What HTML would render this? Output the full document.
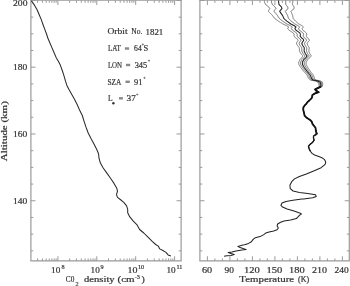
<!DOCTYPE html>
<html><head><meta charset="utf-8"><style>
html,body{margin:0;padding:0;background:#fff;}
body{width:350px;height:286px;overflow:hidden;position:relative;font-family:"Liberation Serif", serif;color:#333;}
svg{position:absolute;left:0;top:0;filter:blur(0.3px);}
.t{position:absolute;white-space:nowrap;line-height:1;}
</style></head><body>
<svg width="350" height="286" viewBox="0 0 350 286">
<line x1="30.35" y1="0.35" x2="181.65" y2="0.35" stroke="#9a9a9a" stroke-width="0.9"/>
<line x1="30.35" y1="260.85" x2="181.65" y2="260.85" stroke="#9a9a9a" stroke-width="1.2"/>
<line x1="30.90" y1="0.00" x2="30.90" y2="260.85" stroke="#9a9a9a" stroke-width="1.2"/>
<line x1="181.10" y1="0.00" x2="181.10" y2="260.85" stroke="#9a9a9a" stroke-width="1.2"/>
<line x1="30.90" y1="250.83" x2="33.30" y2="250.83" stroke="#9a9a9a" stroke-width="1.0"/>
<line x1="181.10" y1="250.83" x2="178.70" y2="250.83" stroke="#9a9a9a" stroke-width="1.0"/>
<line x1="30.90" y1="234.14" x2="33.30" y2="234.14" stroke="#9a9a9a" stroke-width="1.0"/>
<line x1="181.10" y1="234.14" x2="178.70" y2="234.14" stroke="#9a9a9a" stroke-width="1.0"/>
<line x1="30.90" y1="217.45" x2="33.30" y2="217.45" stroke="#9a9a9a" stroke-width="1.0"/>
<line x1="181.10" y1="217.45" x2="178.70" y2="217.45" stroke="#9a9a9a" stroke-width="1.0"/>
<line x1="30.90" y1="200.75" x2="35.50" y2="200.75" stroke="#9a9a9a" stroke-width="1.0"/>
<line x1="181.10" y1="200.75" x2="176.50" y2="200.75" stroke="#9a9a9a" stroke-width="1.0"/>
<line x1="30.90" y1="184.06" x2="33.30" y2="184.06" stroke="#9a9a9a" stroke-width="1.0"/>
<line x1="181.10" y1="184.06" x2="178.70" y2="184.06" stroke="#9a9a9a" stroke-width="1.0"/>
<line x1="30.90" y1="167.37" x2="33.30" y2="167.37" stroke="#9a9a9a" stroke-width="1.0"/>
<line x1="181.10" y1="167.37" x2="178.70" y2="167.37" stroke="#9a9a9a" stroke-width="1.0"/>
<line x1="30.90" y1="150.67" x2="33.30" y2="150.67" stroke="#9a9a9a" stroke-width="1.0"/>
<line x1="181.10" y1="150.67" x2="178.70" y2="150.67" stroke="#9a9a9a" stroke-width="1.0"/>
<line x1="30.90" y1="133.98" x2="35.50" y2="133.98" stroke="#9a9a9a" stroke-width="1.0"/>
<line x1="181.10" y1="133.98" x2="176.50" y2="133.98" stroke="#9a9a9a" stroke-width="1.0"/>
<line x1="30.90" y1="117.29" x2="33.30" y2="117.29" stroke="#9a9a9a" stroke-width="1.0"/>
<line x1="181.10" y1="117.29" x2="178.70" y2="117.29" stroke="#9a9a9a" stroke-width="1.0"/>
<line x1="30.90" y1="100.59" x2="33.30" y2="100.59" stroke="#9a9a9a" stroke-width="1.0"/>
<line x1="181.10" y1="100.59" x2="178.70" y2="100.59" stroke="#9a9a9a" stroke-width="1.0"/>
<line x1="30.90" y1="83.90" x2="33.30" y2="83.90" stroke="#9a9a9a" stroke-width="1.0"/>
<line x1="181.10" y1="83.90" x2="178.70" y2="83.90" stroke="#9a9a9a" stroke-width="1.0"/>
<line x1="30.90" y1="67.20" x2="35.50" y2="67.20" stroke="#9a9a9a" stroke-width="1.0"/>
<line x1="181.10" y1="67.20" x2="176.50" y2="67.20" stroke="#9a9a9a" stroke-width="1.0"/>
<line x1="30.90" y1="50.51" x2="33.30" y2="50.51" stroke="#9a9a9a" stroke-width="1.0"/>
<line x1="181.10" y1="50.51" x2="178.70" y2="50.51" stroke="#9a9a9a" stroke-width="1.0"/>
<line x1="30.90" y1="33.82" x2="33.30" y2="33.82" stroke="#9a9a9a" stroke-width="1.0"/>
<line x1="181.10" y1="33.82" x2="178.70" y2="33.82" stroke="#9a9a9a" stroke-width="1.0"/>
<line x1="30.90" y1="17.12" x2="33.30" y2="17.12" stroke="#9a9a9a" stroke-width="1.0"/>
<line x1="181.10" y1="17.12" x2="178.70" y2="17.12" stroke="#9a9a9a" stroke-width="1.0"/>
<line x1="30.90" y1="0.43" x2="35.50" y2="0.43" stroke="#9a9a9a" stroke-width="1.0"/>
<line x1="181.10" y1="0.43" x2="176.50" y2="0.43" stroke="#9a9a9a" stroke-width="1.0"/>
<line x1="199.35" y1="0.35" x2="349.85" y2="0.35" stroke="#9a9a9a" stroke-width="0.9"/>
<line x1="199.35" y1="260.85" x2="349.85" y2="260.85" stroke="#9a9a9a" stroke-width="1.2"/>
<line x1="199.90" y1="0.00" x2="199.90" y2="260.85" stroke="#9a9a9a" stroke-width="1.2"/>
<line x1="349.30" y1="0.00" x2="349.30" y2="260.85" stroke="#9a9a9a" stroke-width="1.2"/>
<line x1="199.90" y1="250.83" x2="202.30" y2="250.83" stroke="#9a9a9a" stroke-width="1.0"/>
<line x1="349.30" y1="250.83" x2="346.90" y2="250.83" stroke="#9a9a9a" stroke-width="1.0"/>
<line x1="199.90" y1="234.14" x2="202.30" y2="234.14" stroke="#9a9a9a" stroke-width="1.0"/>
<line x1="349.30" y1="234.14" x2="346.90" y2="234.14" stroke="#9a9a9a" stroke-width="1.0"/>
<line x1="199.90" y1="217.45" x2="202.30" y2="217.45" stroke="#9a9a9a" stroke-width="1.0"/>
<line x1="349.30" y1="217.45" x2="346.90" y2="217.45" stroke="#9a9a9a" stroke-width="1.0"/>
<line x1="199.90" y1="200.75" x2="204.50" y2="200.75" stroke="#9a9a9a" stroke-width="1.0"/>
<line x1="349.30" y1="200.75" x2="344.70" y2="200.75" stroke="#9a9a9a" stroke-width="1.0"/>
<line x1="199.90" y1="184.06" x2="202.30" y2="184.06" stroke="#9a9a9a" stroke-width="1.0"/>
<line x1="349.30" y1="184.06" x2="346.90" y2="184.06" stroke="#9a9a9a" stroke-width="1.0"/>
<line x1="199.90" y1="167.37" x2="202.30" y2="167.37" stroke="#9a9a9a" stroke-width="1.0"/>
<line x1="349.30" y1="167.37" x2="346.90" y2="167.37" stroke="#9a9a9a" stroke-width="1.0"/>
<line x1="199.90" y1="150.67" x2="202.30" y2="150.67" stroke="#9a9a9a" stroke-width="1.0"/>
<line x1="349.30" y1="150.67" x2="346.90" y2="150.67" stroke="#9a9a9a" stroke-width="1.0"/>
<line x1="199.90" y1="133.98" x2="204.50" y2="133.98" stroke="#9a9a9a" stroke-width="1.0"/>
<line x1="349.30" y1="133.98" x2="344.70" y2="133.98" stroke="#9a9a9a" stroke-width="1.0"/>
<line x1="199.90" y1="117.29" x2="202.30" y2="117.29" stroke="#9a9a9a" stroke-width="1.0"/>
<line x1="349.30" y1="117.29" x2="346.90" y2="117.29" stroke="#9a9a9a" stroke-width="1.0"/>
<line x1="199.90" y1="100.59" x2="202.30" y2="100.59" stroke="#9a9a9a" stroke-width="1.0"/>
<line x1="349.30" y1="100.59" x2="346.90" y2="100.59" stroke="#9a9a9a" stroke-width="1.0"/>
<line x1="199.90" y1="83.90" x2="202.30" y2="83.90" stroke="#9a9a9a" stroke-width="1.0"/>
<line x1="349.30" y1="83.90" x2="346.90" y2="83.90" stroke="#9a9a9a" stroke-width="1.0"/>
<line x1="199.90" y1="67.20" x2="204.50" y2="67.20" stroke="#9a9a9a" stroke-width="1.0"/>
<line x1="349.30" y1="67.20" x2="344.70" y2="67.20" stroke="#9a9a9a" stroke-width="1.0"/>
<line x1="199.90" y1="50.51" x2="202.30" y2="50.51" stroke="#9a9a9a" stroke-width="1.0"/>
<line x1="349.30" y1="50.51" x2="346.90" y2="50.51" stroke="#9a9a9a" stroke-width="1.0"/>
<line x1="199.90" y1="33.82" x2="202.30" y2="33.82" stroke="#9a9a9a" stroke-width="1.0"/>
<line x1="349.30" y1="33.82" x2="346.90" y2="33.82" stroke="#9a9a9a" stroke-width="1.0"/>
<line x1="199.90" y1="17.12" x2="202.30" y2="17.12" stroke="#9a9a9a" stroke-width="1.0"/>
<line x1="349.30" y1="17.12" x2="346.90" y2="17.12" stroke="#9a9a9a" stroke-width="1.0"/>
<line x1="199.90" y1="0.43" x2="204.50" y2="0.43" stroke="#9a9a9a" stroke-width="1.0"/>
<line x1="349.30" y1="0.43" x2="344.70" y2="0.43" stroke="#9a9a9a" stroke-width="1.0"/>
<line x1="37.56" y1="260.85" x2="37.56" y2="258.45" stroke="#9a9a9a" stroke-width="1.0"/>
<line x1="37.56" y1="0.43" x2="37.56" y2="2.83" stroke="#9a9a9a" stroke-width="1.0"/>
<line x1="42.42" y1="260.85" x2="42.42" y2="258.45" stroke="#9a9a9a" stroke-width="1.0"/>
<line x1="42.42" y1="0.43" x2="42.42" y2="2.83" stroke="#9a9a9a" stroke-width="1.0"/>
<line x1="46.19" y1="260.85" x2="46.19" y2="258.45" stroke="#9a9a9a" stroke-width="1.0"/>
<line x1="46.19" y1="0.43" x2="46.19" y2="2.83" stroke="#9a9a9a" stroke-width="1.0"/>
<line x1="49.27" y1="260.85" x2="49.27" y2="258.45" stroke="#9a9a9a" stroke-width="1.0"/>
<line x1="49.27" y1="0.43" x2="49.27" y2="2.83" stroke="#9a9a9a" stroke-width="1.0"/>
<line x1="51.87" y1="260.85" x2="51.87" y2="258.45" stroke="#9a9a9a" stroke-width="1.0"/>
<line x1="51.87" y1="0.43" x2="51.87" y2="2.83" stroke="#9a9a9a" stroke-width="1.0"/>
<line x1="54.13" y1="260.85" x2="54.13" y2="258.45" stroke="#9a9a9a" stroke-width="1.0"/>
<line x1="54.13" y1="0.43" x2="54.13" y2="2.83" stroke="#9a9a9a" stroke-width="1.0"/>
<line x1="56.12" y1="260.85" x2="56.12" y2="258.45" stroke="#9a9a9a" stroke-width="1.0"/>
<line x1="56.12" y1="0.43" x2="56.12" y2="2.83" stroke="#9a9a9a" stroke-width="1.0"/>
<line x1="57.90" y1="260.85" x2="57.90" y2="256.25" stroke="#9a9a9a" stroke-width="1.0"/>
<line x1="57.90" y1="0.43" x2="57.90" y2="5.03" stroke="#9a9a9a" stroke-width="1.0"/>
<line x1="69.61" y1="260.85" x2="69.61" y2="258.45" stroke="#9a9a9a" stroke-width="1.0"/>
<line x1="69.61" y1="0.43" x2="69.61" y2="2.83" stroke="#9a9a9a" stroke-width="1.0"/>
<line x1="76.46" y1="260.85" x2="76.46" y2="258.45" stroke="#9a9a9a" stroke-width="1.0"/>
<line x1="76.46" y1="0.43" x2="76.46" y2="2.83" stroke="#9a9a9a" stroke-width="1.0"/>
<line x1="81.32" y1="260.85" x2="81.32" y2="258.45" stroke="#9a9a9a" stroke-width="1.0"/>
<line x1="81.32" y1="0.43" x2="81.32" y2="2.83" stroke="#9a9a9a" stroke-width="1.0"/>
<line x1="85.09" y1="260.85" x2="85.09" y2="258.45" stroke="#9a9a9a" stroke-width="1.0"/>
<line x1="85.09" y1="0.43" x2="85.09" y2="2.83" stroke="#9a9a9a" stroke-width="1.0"/>
<line x1="88.17" y1="260.85" x2="88.17" y2="258.45" stroke="#9a9a9a" stroke-width="1.0"/>
<line x1="88.17" y1="0.43" x2="88.17" y2="2.83" stroke="#9a9a9a" stroke-width="1.0"/>
<line x1="90.77" y1="260.85" x2="90.77" y2="258.45" stroke="#9a9a9a" stroke-width="1.0"/>
<line x1="90.77" y1="0.43" x2="90.77" y2="2.83" stroke="#9a9a9a" stroke-width="1.0"/>
<line x1="93.03" y1="260.85" x2="93.03" y2="258.45" stroke="#9a9a9a" stroke-width="1.0"/>
<line x1="93.03" y1="0.43" x2="93.03" y2="2.83" stroke="#9a9a9a" stroke-width="1.0"/>
<line x1="95.02" y1="260.85" x2="95.02" y2="258.45" stroke="#9a9a9a" stroke-width="1.0"/>
<line x1="95.02" y1="0.43" x2="95.02" y2="2.83" stroke="#9a9a9a" stroke-width="1.0"/>
<line x1="96.80" y1="260.85" x2="96.80" y2="256.25" stroke="#9a9a9a" stroke-width="1.0"/>
<line x1="96.80" y1="0.43" x2="96.80" y2="5.03" stroke="#9a9a9a" stroke-width="1.0"/>
<line x1="108.51" y1="260.85" x2="108.51" y2="258.45" stroke="#9a9a9a" stroke-width="1.0"/>
<line x1="108.51" y1="0.43" x2="108.51" y2="2.83" stroke="#9a9a9a" stroke-width="1.0"/>
<line x1="115.36" y1="260.85" x2="115.36" y2="258.45" stroke="#9a9a9a" stroke-width="1.0"/>
<line x1="115.36" y1="0.43" x2="115.36" y2="2.83" stroke="#9a9a9a" stroke-width="1.0"/>
<line x1="120.22" y1="260.85" x2="120.22" y2="258.45" stroke="#9a9a9a" stroke-width="1.0"/>
<line x1="120.22" y1="0.43" x2="120.22" y2="2.83" stroke="#9a9a9a" stroke-width="1.0"/>
<line x1="123.99" y1="260.85" x2="123.99" y2="258.45" stroke="#9a9a9a" stroke-width="1.0"/>
<line x1="123.99" y1="0.43" x2="123.99" y2="2.83" stroke="#9a9a9a" stroke-width="1.0"/>
<line x1="127.07" y1="260.85" x2="127.07" y2="258.45" stroke="#9a9a9a" stroke-width="1.0"/>
<line x1="127.07" y1="0.43" x2="127.07" y2="2.83" stroke="#9a9a9a" stroke-width="1.0"/>
<line x1="129.67" y1="260.85" x2="129.67" y2="258.45" stroke="#9a9a9a" stroke-width="1.0"/>
<line x1="129.67" y1="0.43" x2="129.67" y2="2.83" stroke="#9a9a9a" stroke-width="1.0"/>
<line x1="131.93" y1="260.85" x2="131.93" y2="258.45" stroke="#9a9a9a" stroke-width="1.0"/>
<line x1="131.93" y1="0.43" x2="131.93" y2="2.83" stroke="#9a9a9a" stroke-width="1.0"/>
<line x1="133.92" y1="260.85" x2="133.92" y2="258.45" stroke="#9a9a9a" stroke-width="1.0"/>
<line x1="133.92" y1="0.43" x2="133.92" y2="2.83" stroke="#9a9a9a" stroke-width="1.0"/>
<line x1="135.70" y1="260.85" x2="135.70" y2="256.25" stroke="#9a9a9a" stroke-width="1.0"/>
<line x1="135.70" y1="0.43" x2="135.70" y2="5.03" stroke="#9a9a9a" stroke-width="1.0"/>
<line x1="147.41" y1="260.85" x2="147.41" y2="258.45" stroke="#9a9a9a" stroke-width="1.0"/>
<line x1="147.41" y1="0.43" x2="147.41" y2="2.83" stroke="#9a9a9a" stroke-width="1.0"/>
<line x1="154.26" y1="260.85" x2="154.26" y2="258.45" stroke="#9a9a9a" stroke-width="1.0"/>
<line x1="154.26" y1="0.43" x2="154.26" y2="2.83" stroke="#9a9a9a" stroke-width="1.0"/>
<line x1="159.12" y1="260.85" x2="159.12" y2="258.45" stroke="#9a9a9a" stroke-width="1.0"/>
<line x1="159.12" y1="0.43" x2="159.12" y2="2.83" stroke="#9a9a9a" stroke-width="1.0"/>
<line x1="162.89" y1="260.85" x2="162.89" y2="258.45" stroke="#9a9a9a" stroke-width="1.0"/>
<line x1="162.89" y1="0.43" x2="162.89" y2="2.83" stroke="#9a9a9a" stroke-width="1.0"/>
<line x1="165.97" y1="260.85" x2="165.97" y2="258.45" stroke="#9a9a9a" stroke-width="1.0"/>
<line x1="165.97" y1="0.43" x2="165.97" y2="2.83" stroke="#9a9a9a" stroke-width="1.0"/>
<line x1="168.57" y1="260.85" x2="168.57" y2="258.45" stroke="#9a9a9a" stroke-width="1.0"/>
<line x1="168.57" y1="0.43" x2="168.57" y2="2.83" stroke="#9a9a9a" stroke-width="1.0"/>
<line x1="170.83" y1="260.85" x2="170.83" y2="258.45" stroke="#9a9a9a" stroke-width="1.0"/>
<line x1="170.83" y1="0.43" x2="170.83" y2="2.83" stroke="#9a9a9a" stroke-width="1.0"/>
<line x1="172.82" y1="260.85" x2="172.82" y2="258.45" stroke="#9a9a9a" stroke-width="1.0"/>
<line x1="172.82" y1="0.43" x2="172.82" y2="2.83" stroke="#9a9a9a" stroke-width="1.0"/>
<line x1="174.60" y1="260.85" x2="174.60" y2="256.25" stroke="#9a9a9a" stroke-width="1.0"/>
<line x1="174.60" y1="0.43" x2="174.60" y2="5.03" stroke="#9a9a9a" stroke-width="1.0"/>
<line x1="207.40" y1="260.85" x2="207.40" y2="256.25" stroke="#9a9a9a" stroke-width="1.0"/>
<line x1="207.40" y1="0.43" x2="207.40" y2="5.03" stroke="#9a9a9a" stroke-width="1.0"/>
<line x1="214.90" y1="260.85" x2="214.90" y2="258.45" stroke="#9a9a9a" stroke-width="1.0"/>
<line x1="214.90" y1="0.43" x2="214.90" y2="2.83" stroke="#9a9a9a" stroke-width="1.0"/>
<line x1="222.40" y1="260.85" x2="222.40" y2="258.45" stroke="#9a9a9a" stroke-width="1.0"/>
<line x1="222.40" y1="0.43" x2="222.40" y2="2.83" stroke="#9a9a9a" stroke-width="1.0"/>
<line x1="229.90" y1="260.85" x2="229.90" y2="256.25" stroke="#9a9a9a" stroke-width="1.0"/>
<line x1="229.90" y1="0.43" x2="229.90" y2="5.03" stroke="#9a9a9a" stroke-width="1.0"/>
<line x1="237.40" y1="260.85" x2="237.40" y2="258.45" stroke="#9a9a9a" stroke-width="1.0"/>
<line x1="237.40" y1="0.43" x2="237.40" y2="2.83" stroke="#9a9a9a" stroke-width="1.0"/>
<line x1="244.90" y1="260.85" x2="244.90" y2="258.45" stroke="#9a9a9a" stroke-width="1.0"/>
<line x1="244.90" y1="0.43" x2="244.90" y2="2.83" stroke="#9a9a9a" stroke-width="1.0"/>
<line x1="252.40" y1="260.85" x2="252.40" y2="256.25" stroke="#9a9a9a" stroke-width="1.0"/>
<line x1="252.40" y1="0.43" x2="252.40" y2="5.03" stroke="#9a9a9a" stroke-width="1.0"/>
<line x1="259.90" y1="260.85" x2="259.90" y2="258.45" stroke="#9a9a9a" stroke-width="1.0"/>
<line x1="259.90" y1="0.43" x2="259.90" y2="2.83" stroke="#9a9a9a" stroke-width="1.0"/>
<line x1="267.40" y1="260.85" x2="267.40" y2="258.45" stroke="#9a9a9a" stroke-width="1.0"/>
<line x1="267.40" y1="0.43" x2="267.40" y2="2.83" stroke="#9a9a9a" stroke-width="1.0"/>
<line x1="274.90" y1="260.85" x2="274.90" y2="256.25" stroke="#9a9a9a" stroke-width="1.0"/>
<line x1="274.90" y1="0.43" x2="274.90" y2="5.03" stroke="#9a9a9a" stroke-width="1.0"/>
<line x1="282.40" y1="260.85" x2="282.40" y2="258.45" stroke="#9a9a9a" stroke-width="1.0"/>
<line x1="282.40" y1="0.43" x2="282.40" y2="2.83" stroke="#9a9a9a" stroke-width="1.0"/>
<line x1="289.90" y1="260.85" x2="289.90" y2="258.45" stroke="#9a9a9a" stroke-width="1.0"/>
<line x1="289.90" y1="0.43" x2="289.90" y2="2.83" stroke="#9a9a9a" stroke-width="1.0"/>
<line x1="297.40" y1="260.85" x2="297.40" y2="256.25" stroke="#9a9a9a" stroke-width="1.0"/>
<line x1="297.40" y1="0.43" x2="297.40" y2="5.03" stroke="#9a9a9a" stroke-width="1.0"/>
<line x1="304.90" y1="260.85" x2="304.90" y2="258.45" stroke="#9a9a9a" stroke-width="1.0"/>
<line x1="304.90" y1="0.43" x2="304.90" y2="2.83" stroke="#9a9a9a" stroke-width="1.0"/>
<line x1="312.40" y1="260.85" x2="312.40" y2="258.45" stroke="#9a9a9a" stroke-width="1.0"/>
<line x1="312.40" y1="0.43" x2="312.40" y2="2.83" stroke="#9a9a9a" stroke-width="1.0"/>
<line x1="319.90" y1="260.85" x2="319.90" y2="256.25" stroke="#9a9a9a" stroke-width="1.0"/>
<line x1="319.90" y1="0.43" x2="319.90" y2="5.03" stroke="#9a9a9a" stroke-width="1.0"/>
<line x1="327.40" y1="260.85" x2="327.40" y2="258.45" stroke="#9a9a9a" stroke-width="1.0"/>
<line x1="327.40" y1="0.43" x2="327.40" y2="2.83" stroke="#9a9a9a" stroke-width="1.0"/>
<line x1="334.90" y1="260.85" x2="334.90" y2="258.45" stroke="#9a9a9a" stroke-width="1.0"/>
<line x1="334.90" y1="0.43" x2="334.90" y2="2.83" stroke="#9a9a9a" stroke-width="1.0"/>
<line x1="342.40" y1="260.85" x2="342.40" y2="256.25" stroke="#9a9a9a" stroke-width="1.0"/>
<line x1="342.40" y1="0.43" x2="342.40" y2="5.03" stroke="#9a9a9a" stroke-width="1.0"/>
<polyline points="31.40,0.90 34.30,4.90 37.10,9.80 39.20,14.70 41.30,19.60 42.70,23.80 44.80,29.40 46.90,35.00 47.70,37.80 49.80,42.70 51.90,47.60 54.00,52.50 56.10,57.40 58.20,60.90 60.30,65.10 62.10,70.00 63.70,74.90 65.50,81.20 66.90,85.40 69.00,89.60 71.80,94.50 74.60,99.40 77.40,105.00 79.80,110.60 82.30,115.50 84.00,121.10 86.10,127.40 88.20,133.00 91.00,138.60 94.10,144.20 96.90,149.80 98.60,154.00 99.00,158.20 100.40,163.10 103.20,168.00 106.70,172.90 110.20,177.80 111.20,179.20 114.00,183.40 116.80,188.30 117.50,191.10 116.50,194.60 117.50,197.40 120.30,199.50 123.80,202.30 126.60,205.80 127.70,209.30 127.70,212.70 129.80,216.90 133.30,221.10 136.80,224.60 139.60,229.50 143.80,233.00 148.00,237.20 152.20,241.40 155.70,244.50 158.30,246.10 159.70,248.90 162.50,250.30 166.00,252.40 168.10,254.90 170.90,255.90" fill="none" stroke="#2a2a2a" stroke-width="1.05" stroke-linejoin="round"/>
<polyline points="264.40,0.60 264.40,1.17 264.40,1.73 264.49,2.30 264.80,2.88 265.10,3.45 265.41,4.02 265.71,4.60 266.21,4.98 266.71,5.37 267.22,5.75 267.72,6.13 268.22,6.52 268.72,6.90 269.10,7.47 269.48,8.03 269.85,8.60 269.56,9.03 269.27,9.45 268.98,9.88 268.68,10.30 268.55,10.85 268.42,11.40 268.84,11.82 269.26,12.25 269.68,12.68 270.11,13.10 270.56,13.56 271.01,14.02 271.47,14.48 271.92,14.94 272.37,15.40 272.73,15.88 273.08,16.37 273.44,16.85 273.80,17.33 274.15,17.82 274.51,18.30 275.02,18.68 275.53,19.05 276.03,19.43 276.54,19.80 277.15,20.23 277.73,20.67 278.32,21.10 278.83,21.42 279.34,21.74 279.85,22.07 280.36,22.39 280.86,22.71 281.37,23.03 281.88,23.36 282.39,23.68 282.90,24.00 283.43,24.24 283.97,24.49 284.50,24.73 285.04,24.97 285.57,25.21 286.11,25.46 286.64,25.70 287.12,26.00 287.61,26.30 288.09,26.60 288.58,26.90 288.37,27.32 288.16,27.75 287.95,28.18 287.74,28.60 288.08,29.03 288.42,29.45 288.76,29.88 289.10,30.30 289.56,30.57 290.03,30.85 290.49,31.12 290.96,31.40 291.47,31.76 291.99,32.12 292.50,32.48 293.02,32.84 293.53,33.20 293.88,33.90 294.24,34.60 294.07,35.25 293.89,35.90 294.29,36.38 294.69,36.85 295.08,37.32 295.48,37.80 295.96,38.12 296.44,38.45 296.93,38.77 297.41,39.10 297.73,39.80 298.05,40.50 297.75,40.95 297.44,41.40 297.13,41.85 296.83,42.30 296.65,43.00 296.47,43.70 296.74,44.15 297.01,44.60 297.28,45.05 297.54,45.50 297.90,45.96 298.26,46.42 298.62,46.88 298.98,47.34 299.34,47.80 299.35,48.35 299.37,48.90 299.38,49.45 299.40,50.00 299.41,50.55 299.42,51.10 299.73,51.62 300.03,52.14 300.35,52.66 300.66,53.18 300.97,53.70 301.35,54.14 301.74,54.58 302.12,55.02 302.51,55.46 302.89,55.90 302.63,56.33 302.38,56.75 302.12,57.17 301.86,57.60 301.53,57.95 301.20,58.30 300.86,58.65 300.53,59.00 300.20,59.35 299.87,59.70 299.65,60.22 299.41,60.74 299.17,61.26 298.93,61.78 298.69,62.30 298.74,62.85 298.79,63.40 298.83,63.95 298.88,64.50 299.17,64.96 299.46,65.41 299.75,65.87 300.04,66.33 300.33,66.79 300.62,67.24 300.91,67.70 301.23,68.12 301.56,68.54 301.89,68.96 302.22,69.38 302.54,69.80 302.87,70.22 303.20,70.64 303.53,71.06 303.86,71.48 304.19,71.90 304.55,72.29 304.91,72.68 305.27,73.06 305.62,73.45 305.98,73.84 306.34,74.22 306.69,74.61 307.05,75.00 307.29,75.53 307.53,76.06 307.77,76.59 308.01,77.11 308.25,77.64 308.51,78.17 308.82,78.70 309.36,79.13 309.89,79.57 310.43,80.00 310.94,80.10 311.45,80.20 311.95,80.30 312.46,80.40 312.97,80.50 313.47,80.60 313.98,80.70 314.49,80.80 314.99,80.90 315.50,81.00 316.07,81.28 316.64,81.55 317.21,81.82 317.78,82.10 318.05,82.62 318.31,83.15 318.57,83.67 318.84,84.20 318.96,84.80 319.08,85.40 319.20,86.00 319.32,86.60 318.90,86.83 318.48,87.07 318.06,87.30 317.64,87.53 317.22,87.77 316.80,88.00 316.38,88.23 315.96,88.47 315.54,88.70 315.12,88.93 314.70,89.17 314.28,89.40 314.71,89.87 315.11,90.33 315.51,90.80 316.04,91.08 316.58,91.36 317.12,91.64 317.66,91.92 318.19,92.20 317.71,92.36 317.24,92.51 316.76,92.67 316.28,92.83 315.80,92.99 315.32,93.14 314.84,93.30 314.41,93.58 313.98,93.87 313.55,94.15 313.12,94.43 312.70,94.72 312.27,95.00 312.27,95.50" fill="none" stroke="#555" stroke-width="0.8" stroke-linejoin="round"/>
<polyline points="271.50,0.60 271.50,1.17 271.50,1.73 271.55,2.30 271.76,2.88 271.98,3.45 272.19,4.02 272.40,4.60 272.85,4.98 273.29,5.37 273.73,5.75 274.18,6.13 274.62,6.52 275.06,6.90 275.35,7.47 275.64,8.03 275.93,8.60 275.57,9.03 275.21,9.45 274.85,9.88 274.49,10.30 274.28,10.85 274.06,11.40 274.42,11.82 274.78,12.25 275.14,12.68 275.50,13.10 275.89,13.56 276.28,14.02 276.66,14.48 277.05,14.94 277.44,15.40 277.72,15.88 278.01,16.37 278.29,16.85 278.58,17.33 278.87,17.82 279.15,18.30 279.61,18.68 280.06,19.05 280.52,19.43 280.97,19.80 281.52,20.23 282.07,20.67 282.61,21.10 283.09,21.42 283.56,21.74 284.04,22.07 284.52,22.39 284.99,22.71 285.47,23.03 285.95,23.36 286.42,23.68 286.90,24.00 287.41,24.24 287.92,24.49 288.43,24.73 288.94,24.97 289.45,25.21 289.96,25.46 290.47,25.70 290.93,26.00 291.38,26.30 291.83,26.60 292.29,26.90 292.05,27.32 291.81,27.75 291.56,28.18 291.32,28.60 291.63,29.03 291.93,29.45 292.24,29.88 292.55,30.30 292.99,30.57 293.44,30.85 293.88,31.12 294.33,31.40 294.82,31.76 295.30,32.12 295.79,32.48 296.28,32.84 296.76,33.20 297.07,33.90 297.37,34.60 297.16,35.25 296.94,35.90 297.32,36.38 297.69,36.85 298.07,37.32 298.44,37.80 298.91,38.12 299.37,38.45 299.84,38.77 300.31,39.10 300.59,39.80 300.88,40.50 300.55,40.95 300.22,41.40 299.89,41.85 299.56,42.30 299.35,43.00 299.13,43.70 299.38,44.15 299.63,44.60 299.88,45.05 300.12,45.50 300.46,45.96 300.80,46.42 301.14,46.88 301.48,47.34 301.82,47.80 301.81,48.35 301.80,48.90 301.79,49.45 301.78,50.00 301.77,50.55 301.76,51.10 302.04,51.62 302.33,52.14 302.61,52.66 302.90,53.18 303.19,53.70 303.55,54.14 303.91,54.58 304.27,55.02 304.63,55.46 305.00,55.90 304.72,56.33 304.44,56.75 304.16,57.17 303.88,57.60 303.53,57.95 303.18,58.30 302.83,58.65 302.48,59.00 302.13,59.35 301.78,59.70 301.54,60.22 301.29,60.74 301.05,61.26 300.80,61.78 300.55,62.30 300.58,62.85 300.62,63.40 300.65,63.95 300.69,64.50 300.97,64.96 301.25,65.41 301.53,65.87 301.81,66.33 302.09,66.79 302.37,67.24 302.65,67.70 302.97,68.12 303.29,68.54 303.61,68.96 303.93,69.38 304.25,69.80 304.57,70.22 304.89,70.64 305.21,71.06 305.53,71.48 305.85,71.90 306.19,72.29 306.54,72.68 306.89,73.06 307.24,73.45 307.58,73.84 307.93,74.22 308.28,74.61 308.62,75.00 308.85,75.53 309.08,76.06 309.31,76.59 309.53,77.11 309.76,77.64 310.00,78.17 310.26,78.70 310.76,79.13 311.26,79.57 311.77,80.00 312.27,80.10 312.76,80.20 313.26,80.30 313.76,80.40 314.26,80.50 314.76,80.60 315.26,80.70 315.75,80.80 316.25,80.90 316.75,81.00 317.30,81.28 317.85,81.55 318.39,81.82 318.94,82.10 319.16,82.62 319.38,83.15 319.60,83.67 319.82,84.20 319.88,84.80 319.94,85.40 320.00,86.00 320.06,86.60 319.62,86.83 319.17,87.07 318.73,87.30 318.29,87.53 317.84,87.77 317.40,88.00 316.96,88.23 316.51,88.47 316.07,88.70 315.63,88.93 315.18,89.17 314.74,89.40 315.12,89.87 315.49,90.33 315.85,90.80 316.37,91.08 316.89,91.36 317.41,91.64 317.93,91.92 318.45,92.20 317.96,92.36 317.47,92.51 316.98,92.67 316.49,92.83 316.00,92.99 315.51,93.14 315.02,93.30 314.57,93.58 314.12,93.87 313.68,94.15 313.23,94.43 312.78,94.72 312.33,95.00 312.30,95.50" fill="none" stroke="#4a4a4a" stroke-width="0.8" stroke-linejoin="round"/>
<polyline points="285.70,0.60 285.70,1.17 285.70,1.73 285.65,2.30 285.69,2.88 285.72,3.45 285.76,4.02 285.80,4.60 286.12,4.98 286.44,5.37 286.77,5.75 287.09,6.13 287.41,6.52 287.74,6.90 287.85,7.47 287.96,8.03 288.07,8.60 287.58,9.03 287.09,9.45 286.60,9.88 286.11,10.30 285.72,10.85 285.34,11.40 285.58,11.82 285.82,12.25 286.06,12.68 286.30,13.10 286.55,13.56 286.80,14.02 287.06,14.48 287.31,14.94 287.56,15.40 287.71,15.88 287.86,16.37 288.00,16.85 288.15,17.33 288.30,17.82 288.45,18.30 288.79,18.68 289.14,19.05 289.48,19.43 289.83,19.80 290.28,20.23 290.73,20.67 291.19,21.10 291.60,21.42 292.01,21.74 292.43,22.07 292.84,22.39 293.25,22.71 293.66,23.03 294.08,23.36 294.49,23.68 294.90,24.00 295.36,24.24 295.82,24.49 296.28,24.73 296.75,24.97 297.21,25.21 297.67,25.46 298.13,25.70 298.53,26.00 298.92,26.30 299.31,26.60 299.71,26.90 299.40,27.32 299.09,27.75 298.79,28.18 298.48,28.60 298.72,29.03 298.97,29.45 299.21,29.88 299.45,30.30 299.86,30.57 300.26,30.85 300.67,31.12 301.07,31.40 301.50,31.76 301.94,32.12 302.37,32.48 302.80,32.84 303.24,33.20 303.43,33.90 303.63,34.60 303.34,35.25 303.06,35.90 303.38,36.38 303.71,36.85 304.03,37.32 304.36,37.80 304.79,38.12 305.23,38.45 305.66,38.77 306.09,39.10 306.31,39.80 306.52,40.50 306.15,40.95 305.78,41.40 305.41,41.85 305.04,42.30 304.75,43.00 304.47,43.70 304.67,44.15 304.87,44.60 305.07,45.05 305.28,45.50 305.58,45.96 305.88,46.42 306.18,46.88 306.48,47.34 306.78,47.80 306.72,48.35 306.67,48.90 306.61,49.45 306.55,50.00 306.50,50.55 306.44,51.10 306.68,51.62 306.91,52.14 307.15,52.66 307.38,53.18 307.61,53.70 307.93,54.14 308.25,54.58 308.57,55.02 308.89,55.46 309.21,55.90 308.88,56.33 308.56,56.75 308.24,57.17 307.92,57.60 307.54,57.95 307.15,58.30 306.77,58.65 306.38,59.00 306.00,59.35 305.62,59.70 305.34,60.22 305.07,60.74 304.79,61.26 304.52,61.78 304.25,62.30 304.27,62.85 304.28,63.40 304.30,63.95 304.31,64.50 304.57,64.96 304.83,65.41 305.10,65.87 305.36,66.33 305.62,66.79 305.88,67.24 306.15,67.70 306.45,68.12 306.75,68.54 307.05,68.96 307.35,69.38 307.65,69.80 307.95,70.22 308.25,70.64 308.55,71.06 308.85,71.48 309.15,71.90 309.48,72.29 309.81,72.68 310.14,73.06 310.46,73.45 310.79,73.84 311.12,74.22 311.45,74.61 311.77,75.00 311.98,75.53 312.18,76.06 312.38,76.59 312.58,77.11 312.78,77.64 312.97,78.17 313.14,78.70 313.57,79.13 314.00,79.57 314.43,80.00 314.92,80.10 315.40,80.20 315.88,80.30 316.36,80.40 316.84,80.50 317.32,80.60 317.81,80.70 318.29,80.80 318.77,80.90 319.25,81.00 319.75,81.28 320.25,81.55 320.76,81.82 321.26,82.10 321.39,82.62 321.52,83.15 321.65,83.67 321.78,84.20 321.72,84.80 321.66,85.40 321.60,86.00 321.54,86.60 321.05,86.83 320.56,87.07 320.07,87.30 319.58,87.53 319.09,87.77 318.60,88.00 318.11,88.23 317.62,88.47 317.13,88.70 316.64,88.93 316.15,89.17 315.66,89.40 315.95,89.87 316.24,90.33 316.55,90.80 317.03,91.08 317.51,91.36 317.99,91.64 318.47,91.92 318.95,92.20 318.44,92.36 317.93,92.51 317.42,92.67 316.91,92.83 316.40,92.99 315.89,93.14 315.38,93.30 314.89,93.58 314.41,93.87 313.92,94.15 313.44,94.43 312.95,94.72 312.47,95.00 312.37,95.50" fill="none" stroke="#4a4a4a" stroke-width="0.8" stroke-linejoin="round"/>
<polyline points="292.80,0.60 292.80,1.17 292.80,1.73 292.71,2.30 292.65,2.88 292.60,3.45 292.55,4.02 292.49,4.60 292.76,4.98 293.02,5.37 293.28,5.75 293.55,6.13 293.81,6.52 294.08,6.90 294.10,7.47 294.12,8.03 294.15,8.60 293.59,9.03 293.03,9.45 292.48,9.88 291.92,10.30 291.45,10.85 290.98,11.40 291.16,11.82 291.34,12.25 291.52,12.68 291.69,13.10 291.88,13.56 292.07,14.02 292.25,14.48 292.44,14.94 292.63,15.40 292.71,15.88 292.78,16.37 292.86,16.85 292.94,17.33 293.01,17.82 293.09,18.30 293.38,18.68 293.67,19.05 293.97,19.43 294.26,19.80 294.65,20.23 295.07,20.67 295.48,21.10 295.86,21.42 296.24,21.74 296.62,22.07 297.00,22.39 297.38,22.71 297.76,23.03 298.14,23.36 298.52,23.68 298.90,24.00 299.34,24.24 299.77,24.49 300.21,24.73 300.65,24.97 301.09,25.21 301.52,25.46 301.96,25.70 302.33,26.00 302.69,26.30 303.06,26.60 303.42,26.90 303.08,27.32 302.74,27.75 302.40,28.18 302.06,28.60 302.27,29.03 302.48,29.45 302.69,29.88 302.90,30.30 303.29,30.57 303.67,30.85 304.06,31.12 304.44,31.40 304.85,31.76 305.25,32.12 305.66,32.48 306.06,32.84 306.47,33.20 306.62,33.90 306.76,34.60 306.43,35.25 306.11,35.90 306.41,36.38 306.71,36.85 307.02,37.32 307.32,37.80 307.74,38.12 308.15,38.45 308.57,38.77 308.99,39.10 309.17,39.80 309.35,40.50 308.96,40.95 308.56,41.40 308.16,41.85 307.77,42.30 307.45,43.00 307.13,43.70 307.31,44.15 307.49,44.60 307.67,45.05 307.86,45.50 308.14,45.96 308.42,46.42 308.70,46.88 308.98,47.34 309.26,47.80 309.18,48.35 309.10,48.90 309.02,49.45 308.94,50.00 308.86,50.55 308.78,51.10 308.99,51.62 309.21,52.14 309.41,52.66 309.62,53.18 309.83,53.70 310.13,54.14 310.42,54.58 310.72,55.02 311.01,55.46 311.31,55.90 310.97,56.33 310.62,56.75 310.28,57.17 309.94,57.60 309.54,57.95 309.14,58.30 308.73,58.65 308.33,59.00 307.93,59.35 307.53,59.70 307.23,60.22 306.95,60.74 306.67,61.26 306.39,61.78 306.11,62.30 306.11,62.85 306.11,63.40 306.12,63.95 306.12,64.50 306.37,64.96 306.63,65.41 306.88,65.87 307.13,66.33 307.39,66.79 307.64,67.24 307.89,67.70 308.19,68.12 308.48,68.54 308.77,68.96 309.06,69.38 309.36,69.80 309.65,70.22 309.94,70.64 310.23,71.06 310.52,71.48 310.81,71.90 311.12,72.29 311.44,72.68 311.76,73.06 312.08,73.45 312.40,73.84 312.71,74.22 313.03,74.61 313.35,75.00 313.54,75.53 313.73,76.06 313.91,76.59 314.10,77.11 314.29,77.64 314.46,78.17 314.58,78.70 314.98,79.13 315.37,79.57 315.77,80.00 316.24,80.10 316.71,80.20 317.19,80.30 317.66,80.40 318.13,80.50 318.61,80.60 319.08,80.70 319.55,80.80 320.03,80.90 320.50,81.00 320.98,81.28 321.46,81.55 321.94,81.82 322.42,82.10 322.50,82.62 322.59,83.15 322.68,83.67 322.76,84.20 322.64,84.80 322.52,85.40 322.40,86.00 322.28,86.60 321.77,86.83 321.25,87.07 320.74,87.30 320.23,87.53 319.71,87.77 319.20,88.00 318.69,88.23 318.17,88.47 317.66,88.70 317.15,88.93 316.63,89.17 316.12,89.40 316.36,89.87 316.62,90.33 316.89,90.80 317.36,91.08 317.82,91.36 318.28,91.64 318.74,91.92 319.21,92.20 318.69,92.36 318.16,92.51 317.64,92.67 317.12,92.83 316.60,92.99 316.08,93.14 315.56,93.30 315.06,93.58 314.55,93.87 314.05,94.15 313.54,94.43 313.04,94.72 312.53,95.00 312.40,95.50" fill="none" stroke="#555" stroke-width="0.8" stroke-linejoin="round"/>
<polyline points="278.60,0.60 278.60,2.30 279.10,4.60 281.40,6.90 282.00,8.60 280.30,10.30 279.70,11.40 280.90,13.10 282.50,15.40 283.80,18.30 285.40,19.80 286.90,21.10 290.90,24.00 294.30,25.70 296.00,26.90 294.90,28.60 296.00,30.30 297.70,31.40 300.00,33.20 300.50,34.60 300.00,35.90 301.40,37.80 303.20,39.10 303.70,40.50 302.30,42.30 301.80,43.70 302.70,45.50 304.30,47.80 304.10,51.10 305.40,53.70 307.10,55.90 305.90,57.60 303.70,59.70 302.40,62.30 302.50,64.50 304.40,67.70 307.50,71.90 310.20,75.00 311.70,78.70 313.10,80.00 318.00,81.00 320.10,82.10 320.80,84.20 320.80,86.60 318.00,88.00 315.20,89.40 316.20,90.80 318.70,92.20 315.20,93.30 312.40,95.00 312.20,96.50 311.70,98.10 309.30,100.50 307.20,102.30 306.50,103.70 304.70,105.40 303.30,107.50 303.30,110.00 304.00,112.80 304.60,115.70 306.70,117.80 310.10,119.90 311.70,121.60 312.60,124.10 314.30,126.20 315.50,127.80 315.90,130.80 316.80,133.70 315.10,135.00 313.50,136.10 313.50,138.20 314.10,140.30 312.50,142.40 309.90,144.50 308.50,146.10 309.10,148.70 310.40,151.30 312.00,153.40 314.60,155.00 318.80,156.60 322.50,158.10 324.60,159.70 325.60,161.80 325.60,163.20 324.60,164.90 321.10,167.70 314.80,170.50 306.40,174.00 299.40,176.50 294.50,178.90 291.70,181.70 289.90,185.20 290.30,188.70 293.10,191.00 299.40,192.40 307.80,193.60 315.50,194.70 316.20,196.40 312.70,197.80 303.60,198.90 302.00,199.10 292.90,200.30 286.00,201.40 282.00,203.10 280.90,205.40 282.60,207.10 287.10,208.90 294.00,211.10 299.70,212.90 301.40,214.00 299.70,215.10 298.00,216.90 296.30,218.60 290.60,220.10 284.00,221.10 280.60,222.30 277.70,224.00 277.10,225.70 278.30,228.00 277.10,229.70 273.70,230.90 269.10,232.00 265.70,233.10 263.40,234.90 260.00,236.60 255.40,237.70 253.10,239.40 251.40,241.70 248.60,243.40 244.50,244.80 242.90,245.10 237.80,246.40 240.10,247.60 243.80,248.80 246.10,249.40 241.90,250.10 236.00,251.10 231.90,252.00 228.20,252.60 231.00,253.50 234.20,254.50 231.00,255.40 226.90,255.80 224.10,256.30" fill="none" stroke="#222" stroke-width="1.05" stroke-linejoin="round"/>
<polyline points="320.80,86.60 318.00,88.00 315.20,89.40 316.20,90.80 318.70,92.20 315.20,93.30 312.40,95.00 312.20,96.50 311.70,98.10 309.30,100.50 307.20,102.30 306.50,103.70 304.70,105.40 303.30,107.50 303.30,110.00 304.00,112.80 304.60,115.70 306.70,117.80 310.10,119.90 311.70,121.60 312.60,124.10 314.30,126.20 315.50,127.80 315.90,130.80 316.80,133.70 315.10,135.00" fill="none" stroke="#111" stroke-width="1.75" stroke-linejoin="round"/>
<polyline points="315.90,130.80 316.80,133.70 315.10,135.00 313.50,136.10 313.50,138.20 314.10,140.30 312.50,142.40 309.90,144.50 308.50,146.10 309.10,148.70 310.40,151.30" fill="none" stroke="#1a1a1a" stroke-width="1.3" stroke-linejoin="round"/>
<g font-family='"Liberation Serif", serif' fill="#333" stroke="#333" stroke-width="0.2">
<text x="13.00" y="5.50" font-size="8.3" textLength="14.45" lengthAdjust="spacingAndGlyphs">200</text>
<text x="13.10" y="70.30" font-size="8.3" textLength="14.25" lengthAdjust="spacingAndGlyphs">180</text>
<text x="13.10" y="137.00" font-size="8.3" textLength="14.25" lengthAdjust="spacingAndGlyphs">160</text>
<text x="13.10" y="203.60" font-size="8.3" textLength="14.25" lengthAdjust="spacingAndGlyphs">140</text>
<text x="51.10" y="272.60" font-size="8.3" textLength="9.20" lengthAdjust="spacingAndGlyphs">10</text>
<text x="61.50" y="268.90" font-size="6.2">8</text>
<text x="90.60" y="272.60" font-size="8.3" textLength="9.20" lengthAdjust="spacingAndGlyphs">10</text>
<text x="100.60" y="268.90" font-size="6.2">9</text>
<text x="127.50" y="272.60" font-size="8.3" textLength="10.00" lengthAdjust="spacingAndGlyphs">10</text>
<text x="137.90" y="268.90" font-size="6.2">10</text>
<text x="166.40" y="272.60" font-size="8.3" textLength="9.20" lengthAdjust="spacingAndGlyphs">10</text>
<text x="176.40" y="268.90" font-size="6.2">11</text>
<text x="65.80" y="282.30" font-size="8.3" textLength="8.49" lengthAdjust="spacingAndGlyphs">C0</text>
<text x="75.60" y="285.60" font-size="6.2">2</text>
<text x="84.00" y="282.30" font-size="8.3" textLength="30.67" lengthAdjust="spacingAndGlyphs">density</text>
<text x="117.50" y="282.30" font-size="8.3" textLength="17.11" lengthAdjust="spacingAndGlyphs">(cm</text>
<text x="134.80" y="279.30" font-size="6.2">-3</text>
<text x="141.50" y="282.30" font-size="8.3" textLength="3.27" lengthAdjust="spacingAndGlyphs">)</text>
<text x="201.90" y="272.90" font-size="8.3" textLength="10.20" lengthAdjust="spacingAndGlyphs">60</text>
<text x="224.60" y="272.90" font-size="8.3" textLength="9.40" lengthAdjust="spacingAndGlyphs">90</text>
<text x="244.00" y="272.90" font-size="8.3" textLength="15.85" lengthAdjust="spacingAndGlyphs">120</text>
<text x="266.40" y="272.90" font-size="8.3" textLength="15.85" lengthAdjust="spacingAndGlyphs">150</text>
<text x="289.00" y="272.90" font-size="8.3" textLength="15.65" lengthAdjust="spacingAndGlyphs">180</text>
<text x="311.90" y="272.90" font-size="8.3" textLength="15.05" lengthAdjust="spacingAndGlyphs">210</text>
<text x="334.60" y="272.90" font-size="8.3" textLength="14.15" lengthAdjust="spacingAndGlyphs">240</text>
<text x="239.30" y="282.10" font-size="8.3" textLength="54.81" lengthAdjust="spacingAndGlyphs">Temperature</text>
<text x="298.10" y="282.10" font-size="8.3" textLength="11.03" lengthAdjust="spacingAndGlyphs">(K)</text>
<text x="107.50" y="34.30" font-size="8.3" textLength="20.02" lengthAdjust="spacingAndGlyphs">Orbit</text>
<text x="131.20" y="34.30" font-size="8.3" textLength="11.12" lengthAdjust="spacingAndGlyphs">No.</text>
<text x="145.50" y="34.70" font-size="8.3" textLength="17.79" lengthAdjust="spacingAndGlyphs">1821</text>
<text x="107.90" y="50.90" font-size="8.3" textLength="13.02" lengthAdjust="spacingAndGlyphs">LAT</text>
<rect x="124.90" y="47.30" width="4.20" height="2.4" fill="#888" stroke="none"/>
<text x="134.10" y="50.90" font-size="8.3" textLength="7.60" lengthAdjust="spacingAndGlyphs">64</text>
<circle cx="142.85" cy="44.45" r="0.6" fill="none" stroke="#444" stroke-width="0.75"/>
<text x="143.60" y="50.90" font-size="8.3" textLength="4.73" lengthAdjust="spacingAndGlyphs">S</text>
<text x="107.90" y="67.60" font-size="8.3" textLength="14.16" lengthAdjust="spacingAndGlyphs">LON</text>
<rect x="126.00" y="63.80" width="4.20" height="2.4" fill="#888" stroke="none"/>
<text x="134.70" y="67.50" font-size="8.3" textLength="12.55" lengthAdjust="spacingAndGlyphs">345</text>
<circle cx="149.05" cy="60.65" r="0.6" fill="none" stroke="#444" stroke-width="0.75"/>
<text x="107.50" y="84.60" font-size="8.3" textLength="13.89" lengthAdjust="spacingAndGlyphs">SZA</text>
<rect x="125.50" y="80.60" width="4.30" height="2.4" fill="#888" stroke="none"/>
<text x="134.10" y="84.70" font-size="8.3" textLength="8.40" lengthAdjust="spacingAndGlyphs">91</text>
<circle cx="144.45" cy="77.85" r="0.6" fill="none" stroke="#444" stroke-width="0.75"/>
<text x="107.90" y="100.70" font-size="8.3" textLength="4.68" lengthAdjust="spacingAndGlyphs">L</text>
<rect x="119.00" y="97.10" width="3.90" height="2.4" fill="#888" stroke="none"/>
<text x="126.50" y="100.70" font-size="8.3" textLength="9.30" lengthAdjust="spacingAndGlyphs">37</text>
<circle cx="137.25" cy="94.50" r="0.6" fill="none" stroke="#444" stroke-width="0.75"/>
<circle cx="113.4" cy="103.3" r="1.2" fill="#333" stroke="none"/>
<text transform="translate(7.1,131.2) rotate(-90)" font-size="8.3" text-anchor="middle" textLength="60" lengthAdjust="spacingAndGlyphs">Altitude (km)</text>
</g>
</svg>
</body></html>
